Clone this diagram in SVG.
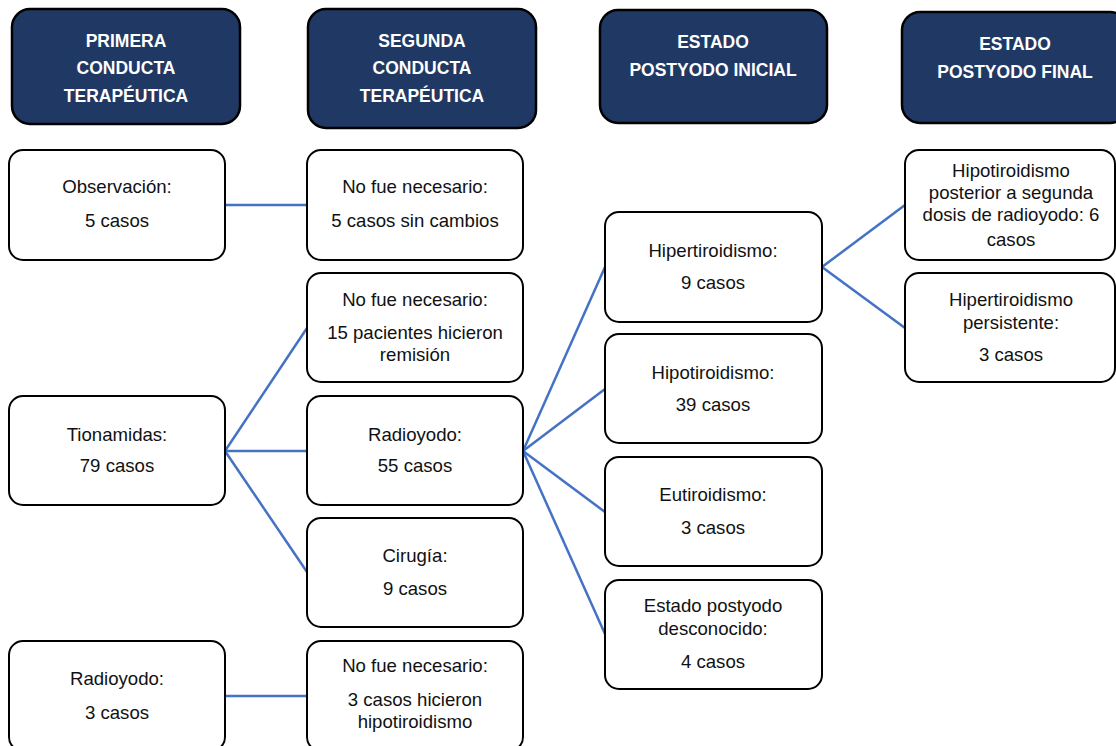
<svg xmlns="http://www.w3.org/2000/svg" width="1116" height="746" viewBox="0 0 1116 746">
<style>
.hdr rect{fill:#203864;stroke:#000;stroke-width:2.5}
.hdr text{fill:#fff;font-family:"Liberation Sans",Arial,sans-serif;font-weight:bold;font-size:17.5px;text-anchor:middle}
.node rect{fill:#fff;stroke:#000;stroke-width:2}
.node text{fill:#111;font-family:"Liberation Sans",Arial,sans-serif;font-size:18.6px;text-anchor:middle}
.conn line{stroke:#4472C4;stroke-width:2.5;fill:none}
</style>
<rect width="1116" height="746" fill="#fff"/>
<g class="conn" id="connectors">
<line x1="225" y1="205" x2="307" y2="205"/>
<line x1="225" y1="451" x2="307" y2="328"/>
<line x1="225" y1="451" x2="307" y2="451"/>
<line x1="225" y1="451" x2="307" y2="572"/>
<line x1="523" y1="451" x2="605" y2="267"/>
<line x1="523" y1="451" x2="605" y2="389"/>
<line x1="523" y1="451" x2="605" y2="512"/>
<line x1="523" y1="451" x2="605" y2="634"/>
<line x1="822" y1="267" x2="905" y2="205"/>
<line x1="822" y1="267" x2="905" y2="328"/>
<line x1="225" y1="696" x2="307" y2="696"/>
</g>
<g class="hdr" id="h1"><rect x="12" y="9" width="228" height="115" rx="18"/><text x="126" y="47">PRIMERA</text><text x="126" y="74">CONDUCTA</text><text x="126" y="102">TERAPÉUTICA</text></g>
<g class="hdr" id="h2"><rect x="308" y="9" width="228" height="119" rx="18"/><text x="422" y="47">SEGUNDA</text><text x="422" y="74">CONDUCTA</text><text x="422" y="102">TERAPÉUTICA</text></g>
<g class="hdr" id="h3"><rect x="600" y="10" width="227" height="113" rx="18"/><text x="713" y="48">ESTADO</text><text x="713" y="76">POSTYODO INICIAL</text></g>
<g class="hdr" id="h4"><rect x="902" y="12" width="226" height="111" rx="18"/><text x="1015" y="50">ESTADO</text><text x="1015" y="78">POSTYODO FINAL</text></g>

<g class="node" id="n-observacion"><rect x="9" y="150" width="216" height="110" rx="14"/><text x="117" y="193">Observación:</text><text x="117" y="227">5 casos</text></g>
<g class="node" id="n-tionamidas"><rect x="9" y="396" width="216" height="109" rx="14"/><text x="117" y="441">Tionamidas:</text><text x="117" y="472">79 casos</text></g>
<g class="node" id="n-radioyodo1"><rect x="9" y="641" width="216" height="110" rx="14"/><text x="117" y="685">Radioyodo:</text><text x="117" y="719">3 casos</text></g>

<g class="node" id="n-nofue1"><rect x="307" y="150" width="216" height="110" rx="14"/><text x="415" y="193">No fue necesario:</text><text x="415" y="227">5 casos sin cambios</text></g>
<g class="node" id="n-nofue2"><rect x="307" y="273" width="216" height="109" rx="14"/><text x="415" y="306">No fue necesario:</text><text x="415" y="339">15 pacientes hicieron</text><text x="415" y="361">remisión</text></g>
<g class="node" id="n-radioyodo2"><rect x="307" y="396" width="216" height="109" rx="14"/><text x="415" y="441">Radioyodo:</text><text x="415" y="472">55 casos</text></g>
<g class="node" id="n-cirugia"><rect x="307" y="518" width="216" height="109" rx="14"/><text x="415" y="562">Cirugía:</text><text x="415" y="595">9 casos</text></g>
<g class="node" id="n-nofue3"><rect x="307" y="641" width="216" height="110" rx="14"/><text x="415" y="672">No fue necesario:</text><text x="415" y="706">3 casos hicieron</text><text x="415" y="728">hipotiroidismo</text></g>

<g class="node" id="n-hiper"><rect x="605" y="212" width="217" height="110" rx="14"/><text x="713" y="257">Hipertiroidismo:</text><text x="713" y="289">9 casos</text></g>
<g class="node" id="n-hipo"><rect x="605" y="334" width="217" height="109" rx="14"/><text x="713" y="379">Hipotiroidismo:</text><text x="713" y="411">39 casos</text></g>
<g class="node" id="n-eu"><rect x="605" y="457" width="217" height="109" rx="14"/><text x="713" y="501">Eutiroidismo:</text><text x="713" y="534">3 casos</text></g>
<g class="node" id="n-desc"><rect x="605" y="580" width="217" height="109" rx="14"/><text x="713" y="612">Estado postyodo</text><text x="713" y="635">desconocido:</text><text x="713" y="668">4 casos</text></g>

<g class="node" id="n-hipo2"><rect x="905" y="150" width="210" height="110" rx="14"/><text x="1011" y="177">Hipotiroidismo</text><text x="1011" y="199">posterior a segunda</text><text x="1011" y="221">dosis de radioyodo: 6</text><text x="1011" y="246">casos</text></g>
<g class="node" id="n-persist"><rect x="905" y="273" width="210" height="109" rx="14"/><text x="1011" y="306">Hipertiroidismo</text><text x="1011" y="329">persistente:</text><text x="1011" y="361">3 casos</text></g>
</svg>
